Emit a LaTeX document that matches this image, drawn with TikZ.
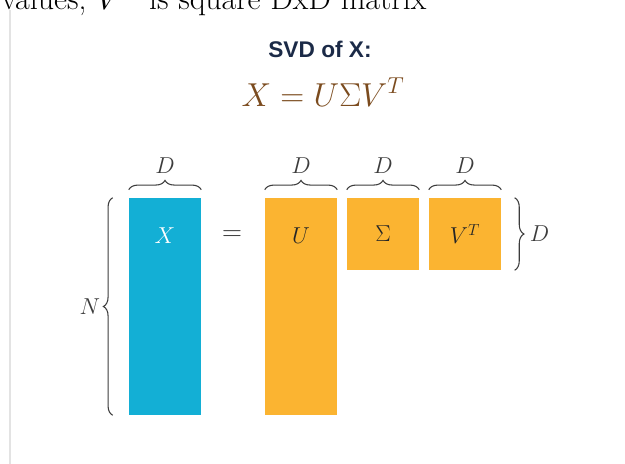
\documentclass[tikz,border=0pt]{standalone}
\usepackage{fontspec}
\newfontfamily\titlefont{Liberation Sans}
\usepackage{xcolor}
\usetikzlibrary{decorations.pathreplacing, calc, positioning}
\definecolor{svdblue}{RGB}{19,175,213}
\definecolor{svdorange}{RGB}{251,180,49}
\definecolor{svdbrown}{RGB}{123,75,30}
\definecolor{svdnavy}{RGB}{27,42,71}
\definecolor{bracegray}{RGB}{60,60,60}

\begin{document}
\begin{tikzpicture}[
    x=0.75pt, y=-0.75pt,
    mat/.style={rectangle, inner sep=0pt, minimum width=54pt},
    lbl/.style={inner sep=0pt, font=\fontsize{17.5}{20}\selectfont},
    brc/.style={decorate, decoration={brace, amplitude=7pt},
                draw=bracegray, line width=0.8pt},
    dim/.style={inner sep=1pt, text=bracegray, font=\fontsize{16.5}{19}\selectfont}
]
\useasboundingbox (0,0) rectangle (625,464);
\clip (0,0) rectangle (625,464);
% text above the panel, cut by the frame
\node[anchor=base west, inner sep=0pt, font=\fontsize{24}{28}\selectfont]
    (cut) at (1,9) {values; $V^T$ is square DxD matrix};
% panel edge
\draw[gray!22, line width=1.5pt] (10,10) -- (10,464);
% title and formula
\node[text=svdnavy, font=\titlefont\bfseries\fontsize{17}{20}\selectfont]
    (title) at (320,49) {SVD of X:};
\node[anchor=base, text=svdbrown, font=\fontsize{27}{32}\selectfont]
    (formula) at (323,106) {$X = U\Sigma V^T$};
% matrices
\node[mat, fill=svdblue, minimum height=162.75pt] (X) at (165,306.5) {};
\node[mat, fill=svdorange, minimum height=162.75pt] (U) at (301,306.5) {};
\node[mat, fill=svdorange, minimum height=54pt] (S) at (383,234) {};
\node[mat, fill=svdorange, minimum height=54pt] (VT) at (465,234) {};
\node[lbl, text=white] (Xl) at ($(X.north)+(0,38)$) {$X$};
\node[lbl, text=black!85] (Ul) at ($(U.north)+(0,38)$) {$U$};
\node[lbl, text=black!85] (Sl) at (S) {$\Sigma$};
\node[lbl, text=black!85] (VTl) at (VT) {$V^T$};
\node[inner sep=0pt, text=black!80, font=\fontsize{20}{24}\selectfont]
    (eqsign) at (232,236) {$=$};
% braces on top
\foreach \m in {X,U,S,VT}{
    \draw[brc] ([yshift=6pt]\m.north west) -- ([yshift=6pt]\m.north east)
        node[midway, above=11pt, dim] {$D$};
}
% side braces
\draw[brc] ([xshift=-12pt]X.south west) -- ([xshift=-12pt]X.north west)
    node[midway, left=8pt, dim] {$N$};
\draw[brc] ([xshift=10pt]VT.north east) -- ([xshift=10pt]VT.south east)
    node[midway, right=10pt, dim] {$D$};
\end{tikzpicture}
\end{document}
